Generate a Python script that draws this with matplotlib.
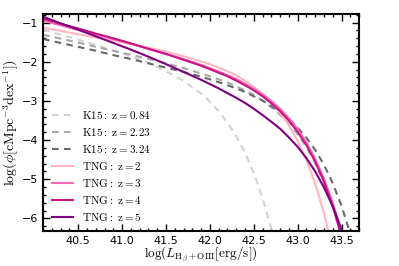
import matplotlib
matplotlib.use('Agg')
import matplotlib.pyplot as plt
from matplotlib.ticker import MultipleLocator

# luminosity grid, log(L [erg/s])
logL = [40.1, 40.3, 40.5, 40.7, 40.9, 41.1, 41.3, 41.5, 41.7, 41.9,
        42.0, 42.1, 42.2, 42.3, 42.4, 42.5, 42.6, 42.7, 42.8, 42.9,
        43.0, 43.1, 43.2, 43.3, 43.4, 43.5, 43.6, 43.7]

# Khostovan+15 luminosity functions (log phi)
k15_z084 = [-1.18, -1.31, -1.44, -1.57, -1.71, -1.86, -2.03, -2.24, -2.49, -2.81,
            -3.02, -3.26, -3.55, -3.90, -4.32, -4.84, -5.48, -6.26, -7.24]
k15_z223 = [-1.31, -1.41, -1.51, -1.62, -1.72, -1.82, -1.93, -2.04, -2.16, -2.30,
            -2.37, -2.45, -2.53, -2.63, -2.73, -2.85, -2.99, -3.16, -3.35, -3.58,
            -3.85, -4.18, -4.59, -5.09, -5.70, -6.46]
k15_z324 = [-1.42, -1.52, -1.62, -1.72, -1.83, -1.93, -2.04, -2.15, -2.26, -2.38,
            -2.45, -2.52, -2.60, -2.68, -2.77, -2.88, -2.99, -3.13, -3.28, -3.46,
            -3.68, -3.94, -4.25, -4.63, -5.10, -5.68, -6.39]

# TNG luminosity functions
tng_z2 = [-1.13, -1.21, -1.30, -1.38, -1.46, -1.55, -1.64, -1.74, -1.86, -1.99,
          -2.06, -2.15, -2.24, -2.35, -2.48, -2.64, -2.82, -3.04, -3.30, -3.62,
          -4.02, -4.51, -5.11, -5.86, -6.79]
tng_z3 = [-0.95, -1.07, -1.19, -1.30, -1.42, -1.54, -1.67, -1.80, -1.93, -2.08,
          -2.16, -2.25, -2.34, -2.44, -2.56, -2.69, -2.83, -3.00, -3.20, -3.44,
          -3.72, -4.06, -4.48, -4.98, -5.60, -6.37]
tng_z4 = [-0.90, -1.03, -1.15, -1.28, -1.40, -1.53, -1.67, -1.80, -1.95, -2.10,
          -2.19, -2.28, -2.37, -2.48, -2.60, -2.73, -2.88, -3.06, -3.26, -3.50,
          -3.79, -4.13, -4.55, -5.06, -5.69, -6.46]
tng_z5 = [-0.85, -1.02, -1.18, -1.35, -1.52, -1.69, -1.87, -2.06, -2.26, -2.46,
          -2.57, -2.68, -2.80, -2.92, -3.05, -3.20, -3.36, -3.53, -3.71, -3.93,
          -4.17, -4.46, -4.80, -5.21, -5.69, -6.28, -7.00]

k15_labels = [r'$\rm K15:\ z=0.84$', r'$\rm K15:\ z=2.23$', r'$\rm K15:\ z=3.24$']
tng_labels = [r'$\rm TNG:\ z=2$', r'$\rm TNG:\ z=3$', r'$\rm TNG:\ z=4$', r'$\rm TNG:\ z=5$']


def plot_lf():
    """
    Hbeta+OIII luminosity functions, TNG vs K15
    """
    plt.rcParams['mathtext.fontset'] = 'cm'
    fig = plt.figure(figsize=(3.99, 2.66), dpi=100)
    ax = fig.add_axes([0.108, 0.13, 0.792, 0.819])

    for y, c, lab in zip([k15_z084, k15_z223, k15_z324],
                         ['lightgray', 'darkgray', 'dimgray'], k15_labels):
        ax.plot(logL[:len(y)], y, color=c, lw=1.5, dashes=(3.2, 2.5), label=lab)
    for y, c, lab in zip([tng_z2, tng_z3, tng_z4, tng_z5],
                         ['lightpink', 'hotpink', 'mediumvioletred', 'purple'], tng_labels):
        ax.plot(logL[:len(y)], y, color=c, lw=1.5, label=lab)

    ax.set_xlim(40.1, 43.7)
    ax.set_ylim(-6.33, -0.77)
    ax.xaxis.set_major_locator(MultipleLocator(0.5))
    ax.xaxis.set_minor_locator(MultipleLocator(0.1))
    ax.yaxis.set_major_locator(MultipleLocator(1))
    ax.yaxis.set_minor_locator(MultipleLocator(0.2))
    ax.tick_params(which='both', direction='in', top=True, right=True, labelsize=8)
    ax.tick_params(which='major', length=5, width=1)
    ax.tick_params(which='minor', length=2.5, width=1)
    for s in ax.spines.values():
        s.set_linewidth(1.5)

    ax.set_xlabel(r'$\log(L_{\rm H_\beta+OIII}[\rm erg/s])$', fontsize=9.5)
    ax.set_ylabel(r'$\log(\phi[{\rm cMpc^{-3}dex^{-1}}])$', fontsize=10)
    ax.xaxis.set_label_coords(0.5, -0.064)
    ax.yaxis.set_label_coords(-0.07, 0.5)
    ax.legend(loc='lower left', frameon=False, fontsize=8, handlelength=1.9,
              handletextpad=0.8, labelspacing=0.45, borderaxespad=0.4, borderpad=0.4)
    fig.savefig('out.png')


if __name__ == "__main__":
    plot_lf()
